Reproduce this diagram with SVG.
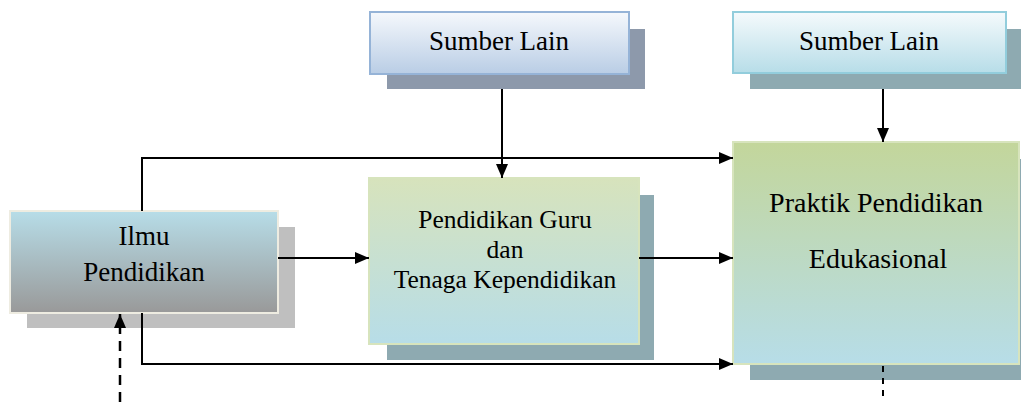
<svg xmlns="http://www.w3.org/2000/svg" width="1021" height="402" viewBox="0 0 1021 402">
<defs>
<linearGradient id="gSumber1" x1="0" y1="0" x2="0" y2="1"><stop offset="0" stop-color="#f5f8fc"/><stop offset="1" stop-color="#b9cde5"/></linearGradient>
<linearGradient id="gSumber2" x1="0" y1="0" x2="0" y2="1"><stop offset="0" stop-color="#f5fafc"/><stop offset="1" stop-color="#b7dde8"/></linearGradient>
<linearGradient id="gIlmu" x1="0" y1="0" x2="0" y2="1"><stop offset="0" stop-color="#b7dde8"/><stop offset="1" stop-color="#999999"/></linearGradient>
<linearGradient id="gGuru" x1="0" y1="0" x2="0" y2="1"><stop offset="0" stop-color="#d7e3bc"/><stop offset="1" stop-color="#b7dde8"/></linearGradient>
<linearGradient id="gPraktik" x1="0" y1="0" x2="0" y2="1"><stop offset="0" stop-color="#c3d69b"/><stop offset="1" stop-color="#b7dde8"/></linearGradient>
<marker id="arrow" viewBox="0 0 14 12" refX="14" refY="6" markerWidth="14" markerHeight="12" markerUnits="userSpaceOnUse" orient="auto"><path d="M0,0 L14,6 L0,12 Z" fill="#000"/></marker>
</defs>
<style>
text{font-family:'Liberation Serif','Times New Roman',serif;fill:#000;text-anchor:middle}
.big{font-size:27px}
.mid{font-size:25.5px}
.pr{font-size:28px}
.line{fill:none;stroke:#000;stroke-width:2}
.dash{fill:none;stroke:#000;stroke-width:2.5;stroke-dasharray:10 7}
.dash2{fill:none;stroke:#000;stroke-width:2;stroke-dasharray:6 6}
</style>
<rect width="1021" height="402" fill="#fff"/>
<g id="sumber-lain-1">
<rect x="387" y="29" width="258" height="60" fill="#8d99ab"/>
<rect x="370" y="12" width="259" height="62" fill="url(#gSumber1)" stroke="#95b3d7" stroke-width="2"/>
<text class="big" x="499" y="50">Sumber Lain</text>
</g>
<g id="sumber-lain-2">
<rect x="750" y="29" width="271" height="60" fill="#8eaab1"/>
<rect x="733" y="12" width="273" height="61" fill="url(#gSumber2)" stroke="#92cddc" stroke-width="2"/>
<text class="big" x="869" y="50">Sumber Lain</text>
</g>
<g id="ilmu-pendidikan">
<rect x="27" y="227" width="268" height="101" fill="#bfbfbf"/>
<rect x="10" y="211" width="268" height="102" fill="url(#gIlmu)" stroke="#eeece1" stroke-width="2"/>
<text class="big" x="144" y="245">Ilmu</text>
<text class="big" x="144" y="281">Pendidikan</text>
</g>
<g id="pendidikan-guru">
<rect x="387" y="195" width="267" height="165" fill="#8eaab1"/>
<rect x="369" y="178" width="270" height="166" fill="url(#gGuru)" stroke="#d7e4bd" stroke-width="2"/>
<text class="mid" x="505" y="228">Pendidikan Guru</text>
<text class="mid" x="505" y="258">dan</text>
<text class="mid" x="505" y="288">Tenaga Kependidikan</text>
</g>
<g id="praktik-pendidikan">
<rect x="750" y="159" width="271" height="221" fill="#8eaab1"/>
<rect x="733" y="142" width="286" height="222" fill="url(#gPraktik)" stroke="#d7e4bd" stroke-width="2"/>
<text class="pr" x="876" y="212">Praktik Pendidikan</text>
<text class="pr" x="878" y="268" font-size="28.5">Edukasional</text>
</g>
<g id="connectors">
<path class="line" d="M502,89 V178" marker-end="url(#arrow)"/>
<path class="line" d="M883,89 V142" marker-end="url(#arrow)"/>
<path class="line" d="M142,211 V158 H733" marker-end="url(#arrow)"/>
<path class="line" d="M278,258 H369" marker-end="url(#arrow)"/>
<path class="line" d="M639,258 H733" marker-end="url(#arrow)"/>
<path class="line" d="M142,313 V364 H733" marker-end="url(#arrow)"/>
<path class="dash" d="M120,402 V314" marker-end="url(#arrow)"/>
<path class="dash2" d="M883,366 V402"/>
</g>
</svg>
